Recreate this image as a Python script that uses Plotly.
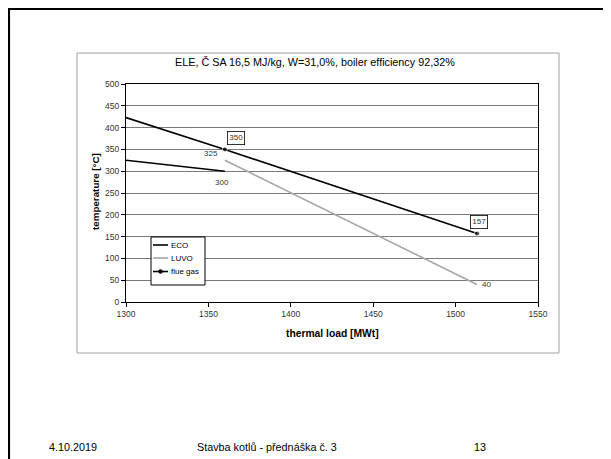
import plotly.graph_objects as go

# ---- data ----
eco_load = [1300, 1360]
eco_temp = [325, 300]
luvo_load = [1360, 1513]
luvo_temp = [325, 40]
flue_load = [1300, 1360, 1513]
flue_temp = [423, 350, 157]
x_ticks = [1300, 1350, 1400, 1450, 1500, 1550]
y_ticks = [0, 50, 100, 150, 200, 250, 300, 350, 400, 450, 500]
series_names = ["ECO", "LUVO", "flue gas"]

FONT = "Liberation Sans, Arial, sans-serif"
OFF = 8  # page body margin
W, H = 611 - OFF, 459 - OFF
# plot area in page pixels
L, R, T, B = 126, 538, 84, 302

BLACK = "black"
GRAY = "#a6a6a6"

fig = go.Figure()
fig.add_trace(go.Scatter(x=eco_load, y=eco_temp, mode="lines", name=series_names[0],
                         line=dict(color=BLACK, width=1.6), showlegend=False))
fig.add_trace(go.Scatter(x=luvo_load, y=luvo_temp, mode="lines", name=series_names[1],
                         line=dict(color=GRAY, width=1.6), showlegend=False))
fig.add_trace(go.Scatter(x=flue_load, y=flue_temp, mode="lines+markers", name=series_names[2],
                         line=dict(color=BLACK, width=1.6),
                         marker=dict(color=BLACK, size=[0, 5, 5]), showlegend=False))

def px(xp):
    return (xp - L) / (R - L)

def py(yp):
    return (B - yp) / (B - T)

shapes = [
    # slide frame
    dict(type="line", xref="paper", yref="paper", x0=px(OFF), x1=px(611), y0=py(OFF + 0.8), y1=py(OFF + 0.8),
         line=dict(color=BLACK, width=2.5)),
    dict(type="line", xref="paper", yref="paper", x0=px(OFF + 0.8), x1=px(OFF + 0.8), y0=py(OFF), y1=py(459),
         line=dict(color=BLACK, width=2.5)),
    # chart box
    dict(type="rect", xref="paper", yref="paper", x0=px(77), x1=px(559), y0=py(53), y1=py(353),
         line=dict(color="#a0a0a0", width=1), layer="below"),
    # legend box
    dict(type="rect", xref="paper", yref="paper", x0=px(151), x1=px(205), y0=py(237), y1=py(285),
         line=dict(color=BLACK, width=1), fillcolor="white", layer="above"),
]

ann = []
# legend entries
leg_y = [245, 258, 271.5]
leg_col = [BLACK, GRAY, BLACK]
for name, yy, col in zip(series_names, leg_y, leg_col):
    shapes.append(dict(type="line", xref="paper", yref="paper", x0=px(153), x1=px(168),
                       y0=py(yy), y1=py(yy), line=dict(color=col, width=1.6)))
    ann.append(dict(x=px(169), y=py(yy), xref="paper", yref="paper", xanchor="left",
                    yanchor="middle", showarrow=False, text=name,
                    font=dict(family=FONT, size=8, color=BLACK)))
shapes.append(dict(type="circle", xref="paper", yref="paper", x0=px(158.5), x1=px(162.5),
                   y0=py(leg_y[2] - 2), y1=py(leg_y[2] + 2),
                   line=dict(color=BLACK, width=0.5), fillcolor=BLACK))

# point labels
def lab(x, y, text, xs, ys, box=False):
    d = dict(x=x, y=y, xref="x", yref="y", text=text, showarrow=False,
             xanchor="center", yanchor="middle",
             xshift=xs, yshift=ys, font=dict(family=FONT, size=8, color="#333333"))
    if box:
        d.update(bordercolor=BLACK, borderwidth=0.8, borderpad=1.5, bgcolor="white")
    ann.append(d)

lab(flue_load[1], flue_temp[1], "350", 11, 11, True)
lab(luvo_load[0], luvo_temp[0], "325", -14, 7)
lab(eco_load[1], eco_temp[1], "300", -3, -11)
lab(flue_load[2], flue_temp[2], "157", 2, 12, True)
lab(luvo_load[1], luvo_temp[1], "40", 9, 0)

def ptext(xc, yc, text, size, angle=0):
    ann.append(dict(x=px(xc), y=py(yc), xref="paper", yref="paper", showarrow=False,
                    xanchor="center", yanchor="middle", text=text, textangle=angle,
                    font=dict(family=FONT, size=size, color=BLACK)))

# title and axis titles
ptext(315, 62, "ELE, Č SA 16,5 MJ/kg, W=31,0%, boiler efficiency 92,32%", 10.8)
ptext(95, 192, "<b>temperature [°C]</b>", 9.8, -90)
ptext(332, 333, "<b>thermal load [MWt]</b>", 10.3)
# footer
ptext(73, 447, "4.10.2019", 10.8)
ptext(267, 447, "Stavba kotlů - přednáška č. 3", 10.8)
ptext(480, 447, "13", 10.8)

fig.update_layout(
    width=W, height=H,
    margin=dict(l=L - OFF, r=611 - R, t=T - OFF, b=459 - B, autoexpand=False),
    paper_bgcolor="white", plot_bgcolor="white",
    showlegend=False,
    shapes=shapes, annotations=ann,
    xaxis=dict(range=[1300, 1550], tickvals=x_ticks, ticks="outside", ticklen=4,
               tickcolor=BLACK, showline=True, linecolor=BLACK, linewidth=1,
               mirror=True, showgrid=False, zeroline=False,
               tickfont=dict(family=FONT, size=8.5, color="#333333")),
    yaxis=dict(range=[0, 500], tickvals=y_ticks, ticks="outside", ticklen=4,
               tickcolor=BLACK, showline=True, linecolor=BLACK, linewidth=1,
               mirror=True, showgrid=True, gridcolor="#7a7a7a", gridwidth=1,
               zeroline=False,
               tickfont=dict(family=FONT, size=8.5, color="#333333")),
)

fig.write_html("out.html")
